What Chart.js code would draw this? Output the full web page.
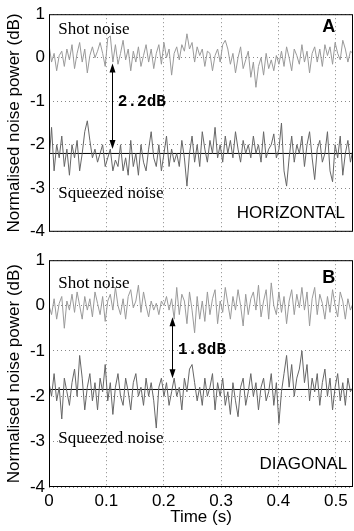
<!DOCTYPE html>
<html lang="en">
<head>
    <meta charset="UTF-8">
    <title>Squeezed noise traces</title>
    <script src="https://cdn.jsdelivr.net/npm/chart.js"></script>
    <style>
        body {
            margin: 0;
            background: #fff;
        }
        canvas {
            display: block;
        }
    </style>
</head>
<body>
    <canvas id="chartA" width="354" height="246"></canvas>
    <canvas id="chartB" width="354" height="285"></canvas>

    <script>
        // Time axis: 120 samples spread over 0 - 0.53 s
        const timeMax = 0.53;
        const sampleCount = 120;

        // Panel A (horizontal)
        const shotA = [
            0.3, -0.1, 0.1, -0.3, 0.05, 0.15, -0.2, 0.2, -0.05, 0.3,
            -0.25, 0.1, 0.35, -0.1, 0.2, -0.35, 0.05, 0.25, 0.0, 0.15,
            0.35, 0.1, -0.2, 0.45, 0.5, -0.1, 0.3, -0.15, 0.1, 0.4,
            -0.05, 0.2, -0.3, 0.15, -0.1, 0.25, -0.2, 0.05, 0.3, -0.1,
            0.2, -0.25, 0.1, 0.3, -0.15, 0.35, 0.0, 0.2, -0.4, 0.1,
            0.25, -0.05, 0.3, 0.15, 0.55, 0.2, 0.35, -0.1, 0.25, 0.05,
            0.2, -0.2, 0.15, 0.1, -0.3, 0.05, 0.2, -0.1, 0.3, 0.4,
            0.2, -0.15, 0.1, -0.35, 0.0, 0.25, -0.25, -0.05, 0.15, -0.45,
            -0.1, -0.68, -0.2, 0.0, -0.4, 0.1, -0.25, -0.05, -0.3, 0.05,
            -0.15, 0.15, -0.2, 0.25, 0.0, -0.3, 0.2, 0.05, -0.15, 0.3,
            -0.1, 0.15, -0.35, 0.1, 0.25, -0.1, 0.2, -0.2, 0.3, 0.05,
            0.25, -0.15, 0.35, 0.1, -0.05, 0.4, 0.2, -0.1, 0.15, 0.1
        ];
        const squeezedA = [
            -2.4, -1.6, -2.6, -2.0, -2.3, -1.8, -2.5, -2.1, -2.7, -2.0,
            -2.3, -1.9, -2.6, -2.2, -1.7, -1.45, -1.9, -2.3, -2.1, -2.4,
            -2.2, -2.0, -2.5, -2.3, -2.1, -2.6, -2.35, -2.5, -2.0, -2.6,
            -2.3, -2.7, -1.9, -2.5, -2.2, -2.7, -2.0, -2.4, -2.6, -2.1,
            -1.7, -2.3, -2.5, -2.0, -2.6, -2.2, -1.8, -2.5, -2.1, -2.4,
            -2.2, -2.5, -1.9, -2.3, -2.95, -2.2, -1.8, -2.4, -2.0, -2.5,
            -1.7, -2.1, -2.4, -1.9, -2.2, -1.6, -2.3, -2.0, -2.4, -1.8,
            -2.2, -1.9, -2.3, -1.7, -2.1, -2.4, -1.9, -2.2, -2.0, -2.3,
            -1.8, -2.2, -2.0, -2.4, -1.7, -2.3, -2.1, -2.0, -1.75, -2.3,
            -2.1, -1.5, -2.6, -2.95, -2.3, -1.8, -2.4, -2.0, -2.2, -1.8,
            -2.5, -2.0, -1.7, -2.3, -2.8, -2.1, -1.9, -2.4, -2.2, -1.7,
            -2.6, -2.85, -2.0, -2.3, -1.8, -2.7, -2.2, -1.9, -2.4, -2.1
        ];
        const levelA = -2.2;

        // Panel B (diagonal)
        const shotB = [
            0.0, -0.2, 0.15, -0.3, 0.05, 0.2, -0.5, 0.1, -0.1, 0.25,
            -0.15, 0.3, 0.0, -0.3, 0.2, -0.1, 0.15, -0.25, 0.3, 0.05,
            -0.2, 0.2, -0.35, 0.1, 0.25, -0.1, 0.4, 0.0, -0.2, 0.15,
            -0.3, 0.2, 0.35, -0.05, 0.1, 0.45, -0.15, 0.3, 0.0, -0.25,
            0.1, -0.1, 0.05, -0.2, 0.1, 0.0, 0.2, -0.1, 0.15, -0.3,
            0.4, -0.2, 0.25, 0.1, -0.4, 0.3, -0.1, -0.6, 0.2, -0.3,
            0.1, -0.35, 0.3, -0.2, 0.15, 0.35, -0.4, 0.1, -0.15, 0.4,
            0.05, -0.3, 0.2, -0.1, 0.35, 0.0, -0.45, 0.25, -0.2, 0.15,
            0.3, -0.1, 0.45, -0.25, 0.1, 0.35, -0.3, 0.5, 0.0, -0.2,
            0.3, -0.15, 0.2, -0.4, 0.1, 0.35, -0.2, 0.25, -0.05, 0.4,
            -0.1, 0.3, -0.45, 0.15, 0.4, -0.2, 0.25, 0.05, -0.3, 0.2,
            -0.15, 0.35, 0.0, -0.25, 0.3, 0.1, -0.3, 0.15, -0.1, 0.05
        ];
        const squeezedB = [
            -1.7, -2.0, -1.5, -2.1, -1.8, -2.5, -1.6, -1.9, -2.2, -1.7,
            -1.4, -2.0, -1.1, -1.6, -2.3, -1.8, -1.5, -2.1, -1.7, -2.3,
            -1.6, -1.9, -1.3, -2.1, -1.7, -2.4, -1.8, -1.5, -2.0, -2.2,
            -1.6, -1.9, -2.3, -1.7, -1.5, -2.0, -1.8, -2.2, -1.6, -2.0,
            -1.7, -2.1, -2.7, -1.8, -1.6, -2.0, -1.7, -2.2, -1.9, -1.6,
            -2.0, -1.8, -2.3, -1.6, -1.9, -1.4, -1.3, -1.7, -2.1, -1.8,
            -2.2, -1.6, -2.0, -1.8, -1.5, -2.3, -1.7, -2.0, -1.6, -2.2,
            -1.9, -2.4, -1.7, -2.1, -2.45, -1.8, -1.6, -2.2, -1.9, -1.5,
            -2.0, -1.7, -2.3, -1.8, -1.6, -2.1, -1.9, -1.5, -2.2, -1.7,
            -2.6, -1.9, -1.5, -1.1, -1.8, -1.3, -2.0, -1.6, -1.4, -1.0,
            -1.7, -1.3, -2.1, -1.6, -1.9, -1.5, -2.2, -1.7, -1.4, -2.0,
            -1.6, -2.3, -1.8, -1.5, -2.1, -1.7, -2.2, -1.6, -1.9, -1.8
        ];
        const levelB = -1.85;

        const yTicks = [1, 0, -1, -2, -3, -4];
        const xTicks = [0, 0.1, 0.2, 0.3, 0.4, 0.5];

        const sansFont = "'Liberation Sans', Arial, sans-serif";
        const serifFont = "'Liberation Serif', 'Times New Roman', serif";
        const monoFont = "'Liberation Mono', 'Courier New', monospace";

        function toPoints(values) {
            return values.map((v, i) => ({ x: i * timeMax / (sampleCount - 1), y: v }));
        }

        // Box, arrow and labels drawn in data coordinates
        function annotations(opts) {
            return {
                id: 'annotations',
                afterDatasetsDraw(chart) {
                    const { ctx, chartArea, scales: { x, y } } = chart;
                    ctx.save();
                    ctx.strokeStyle = '#000';
                    ctx.lineWidth = 1;
                    ctx.strokeRect(chartArea.left + 0.5, chartArea.top + 0.5,
                        chartArea.right - chartArea.left - 1, chartArea.bottom - chartArea.top - 1);

                    // double arrow
                    const ax = Math.round(x.getPixelForValue(opts.arrowX)) + 0.5;
                    const ay1 = y.getPixelForValue(opts.arrowTop);
                    const ay2 = y.getPixelForValue(opts.arrowBottom);
                    ctx.beginPath();
                    ctx.moveTo(ax, ay1 + 6);
                    ctx.lineTo(ax, ay2 - 6);
                    ctx.stroke();
                    ctx.fillStyle = '#000';
                    ctx.beginPath();
                    ctx.moveTo(ax, ay1);
                    ctx.lineTo(ax - 3, ay1 + 9);
                    ctx.lineTo(ax + 3, ay1 + 9);
                    ctx.closePath();
                    ctx.fill();
                    ctx.beginPath();
                    ctx.moveTo(ax, ay2);
                    ctx.lineTo(ax - 3, ay2 - 9);
                    ctx.lineTo(ax + 3, ay2 - 9);
                    ctx.closePath();
                    ctx.fill();

                    ctx.textBaseline = 'middle';
                    opts.labels.forEach(l => {
                        ctx.font = l.font;
                        ctx.textAlign = l.align;
                        ctx.fillText(l.text, x.getPixelForValue(l.x), y.getPixelForValue(l.y));
                    });
                    ctx.restore();
                }
            };
        }

        function makeChart(canvasId, shot, squeezed, level, opts) {
            return new Chart(document.getElementById(canvasId), {
                type: 'line',
                data: {
                    datasets: [
                        { data: toPoints(shot), borderColor: '#9a9a9a', borderWidth: 1 },
                        { data: toPoints(squeezed), borderColor: '#666', borderWidth: 1 },
                        { data: [{ x: 0, y: level }, { x: timeMax, y: level }], borderColor: '#000', borderWidth: 1 }
                    ]
                },
                options: {
                    responsive: false,
                    animation: false,
                    devicePixelRatio: 1,
                    elements: { point: { radius: 0 }, line: { tension: 0 } },
                    layout: { padding: { top: opts.padTop, right: 1, left: 0, bottom: 0 } },
                    plugins: { legend: { display: false }, tooltip: { enabled: false } },
                    scales: {
                        x: {
                            type: 'linear',
                            min: 0,
                            max: timeMax,
                            afterBuildTicks: (scale) => { scale.ticks = xTicks.map(v => ({ value: v })); },
                            afterFit: (scale) => { scale.height = opts.xHeight; },
                            grid: { color: '#888', drawTicks: false },
                            border: { display: false, dash: [1, 3] },
                            ticks: {
                                display: opts.showX,
                                color: '#000',
                                padding: 4,
                                maxRotation: 0,
                                font: { family: sansFont, size: 17 },
                                callback: (v) => String(Math.round(v * 10) / 10)
                            },
                            title: {
                                display: opts.showX,
                                text: 'Time (s)',
                                color: '#000',
                                font: { family: sansFont, size: 17 },
                                padding: { top: 0, bottom: 3 }
                            }
                        },
                        y: {
                            min: -4,
                            max: 1,
                            afterBuildTicks: (scale) => { scale.ticks = yTicks.map(v => ({ value: v })); },
                            afterFit: (scale) => { scale.width = 49; },
                            grid: { color: '#888', drawTicks: false },
                            border: { display: false, dash: [1, 3] },
                            ticks: {
                                color: '#000',
                                padding: 4,
                                font: { family: sansFont, size: 17 }
                            },
                            title: {
                                display: true,
                                text: 'Normalised noise power (dB)',
                                color: '#000',
                                font: { family: sansFont, size: 17 },
                                padding: { top: 4, bottom: 0 }
                            }
                        }
                    }
                },
                plugins: [annotations(opts)]
            });
        }

        makeChart('chartA', shotA, squeezedA, levelA, {
            padTop: 12, xHeight: 6, showX: false,
            arrowX: 0.109, arrowTop: -0.13, arrowBottom: -2.1,
            labels: [
                { text: 'Shot noise', x: 0.016, y: 0.65, align: 'left', font: '17px ' + serifFont },
                { text: 'Squeezed noise', x: 0.016, y: -3.12, align: 'left', font: '17px ' + serifFont },
                { text: 'A', x: 0.499, y: 0.71, align: 'right', font: 'bold 18px ' + sansFont },
                { text: 'HORIZONTAL', x: 0.516, y: -3.58, align: 'right', font: '17px ' + sansFont },
                { text: '2.2dB', x: 0.12, y: -1.02, align: 'left', font: 'bold 16px ' + monoFont }
            ]
        });

        makeChart('chartB', shotB, squeezedB, levelB, {
            padTop: 7, xHeight: 44, showX: true,
            arrowX: 0.215, arrowTop: -0.26, arrowBottom: -1.6,
            labels: [
                { text: 'Shot noise', x: 0.016, y: 0.49, align: 'left', font: '17px ' + serifFont },
                { text: 'Squeezed noise', x: 0.016, y: -2.93, align: 'left', font: '17px ' + serifFont },
                { text: 'B', x: 0.499, y: 0.6, align: 'right', font: 'bold 18px ' + sansFont },
                { text: 'DIAGONAL', x: 0.52, y: -3.51, align: 'right', font: '17px ' + sansFont },
                { text: '1.8dB', x: 0.225, y: -0.97, align: 'left', font: 'bold 16px ' + monoFont }
            ]
        });
    </script>
</body>
</html>
